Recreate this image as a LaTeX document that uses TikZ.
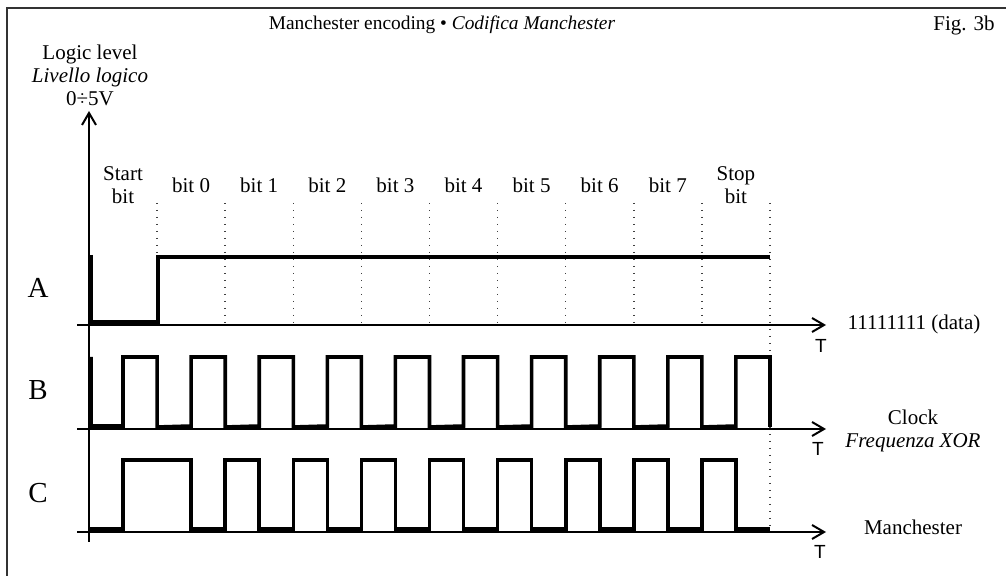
\documentclass[tikz,border=0pt]{standalone}
\usepackage{fontspec}
\setmainfont{Liberation Serif}
\setsansfont{Liberation Sans}
\usetikzlibrary{arrows.meta}
\tikzset{
    %Define standard arrow tip
    >={Straight Barb[length=6pt,width=7pt,line width=1pt]},
    %Define style for frame
    frame/.style={
           draw=black!80,
           line width=1pt},
    %Define style for axes
    axis/.style={
           ->,
           line width=1pt},
    %Define style for waveforms
    signal/.style={
           line width=1.8pt,
           line join=miter},
    %Define style for bit boundaries
    slot/.style={
           draw=black!75,
           line width=0.75pt,
           dash pattern=on 0.75pt off 2.75pt},
    %Define style for texts
    lbl/.style={
           font=\fontsize{10.5}{11.5}\selectfont,
           inner sep=0pt,
           align=center},
    chan/.style={
           font=\fontsize{14.5}{16}\selectfont,
           inner sep=0pt},
    tlbl/.style={
           font=\sffamily\fontsize{9.5}{10}\selectfont,
           inner sep=0pt}
}
\begin{document}
\begin{tikzpicture}[x=0.5pt,y=-0.5pt]
\useasboundingbox (0,0) rectangle (1006,576);
%frame
\draw[frame] (1006,8) -- (7,8) -- (7,576);
%axes
\coordinate (o) at (89,542);
\coordinate (top) at (89,111);
\draw[axis] (o) -- (top);
\foreach \n/\y in {a/325,b/429,c/532}{
    \coordinate (\n0) at (77,\y);
    \coordinate (\n1) at (826,\y);
    \draw[axis] (\n0) -- (\n1);
}
%bit boundaries
\foreach \k in {1,...,9}
    \draw[slot] (89+68.1*\k,203) -- (89+68.1*\k,323);
\draw[slot] (770,203) -- (770,531);
%bit names
\foreach \k/\t in {0/{Start\\bit},1/bit 0,2/bit 1,3/bit 2,4/bit 3,5/bit 4,6/bit 5,7/bit 6,8/bit 7,9/{Stop\\bit}}
    \node[lbl] (bit\k) at (123+68.1*\k,185) {\t};
%signal A
\draw[signal] (91,255) -- (91,322) -- (158,322) -- (158,257) -- (770,257);
%signal B
\draw[signal] (91,357) -- (91,426)
    \foreach \k in {0,...,9}{
    -- (123+68.1*\k,426) -- (123+68.1*\k,357)
    -- (157.1+68.1*\k,357) -- (157.1+68.1*\k,427)};
%signal C
\draw[signal] (89,529) -- (123,529) -- (123,460)
    \foreach \k in {1,...,8}{
    -- (123+68.1*\k,460) -- (123+68.1*\k,529)
    -- (157.1+68.1*\k,529) -- (157.1+68.1*\k,460)}
    -- (735.9,460) -- (735.9,529) -- (770,529);
%texts
\node[lbl, font=\fontsize{9.7}{11}\selectfont] (title) at (442,25) {Manchester encoding • \textit{Codifica Manchester}};
\node[lbl] (fig) at (964,25) {Fig. 3b};
\node[lbl] (ylbl) at (90,75) {Logic level\\\textit{Livello logico}\\0÷5V};
\node[chan] (chA) at (38,288) {A};
\node[chan] (chB) at (38,390) {B};
\node[chan] (chC) at (38,493) {C};
\node[lbl] (data) at (914,324) {11111111 (data)};
\node[lbl] (clk) at (913,431) {Clock\\\textit{Frequenza XOR}};
\node[lbl] (man) at (913,527) {Manchester};
\node[tlbl] (ta) at (821,346) {T};
\node[tlbl] (tb) at (818,449) {T};
\node[tlbl] (tc) at (820,552) {T};
\end{tikzpicture}
\end{document}
